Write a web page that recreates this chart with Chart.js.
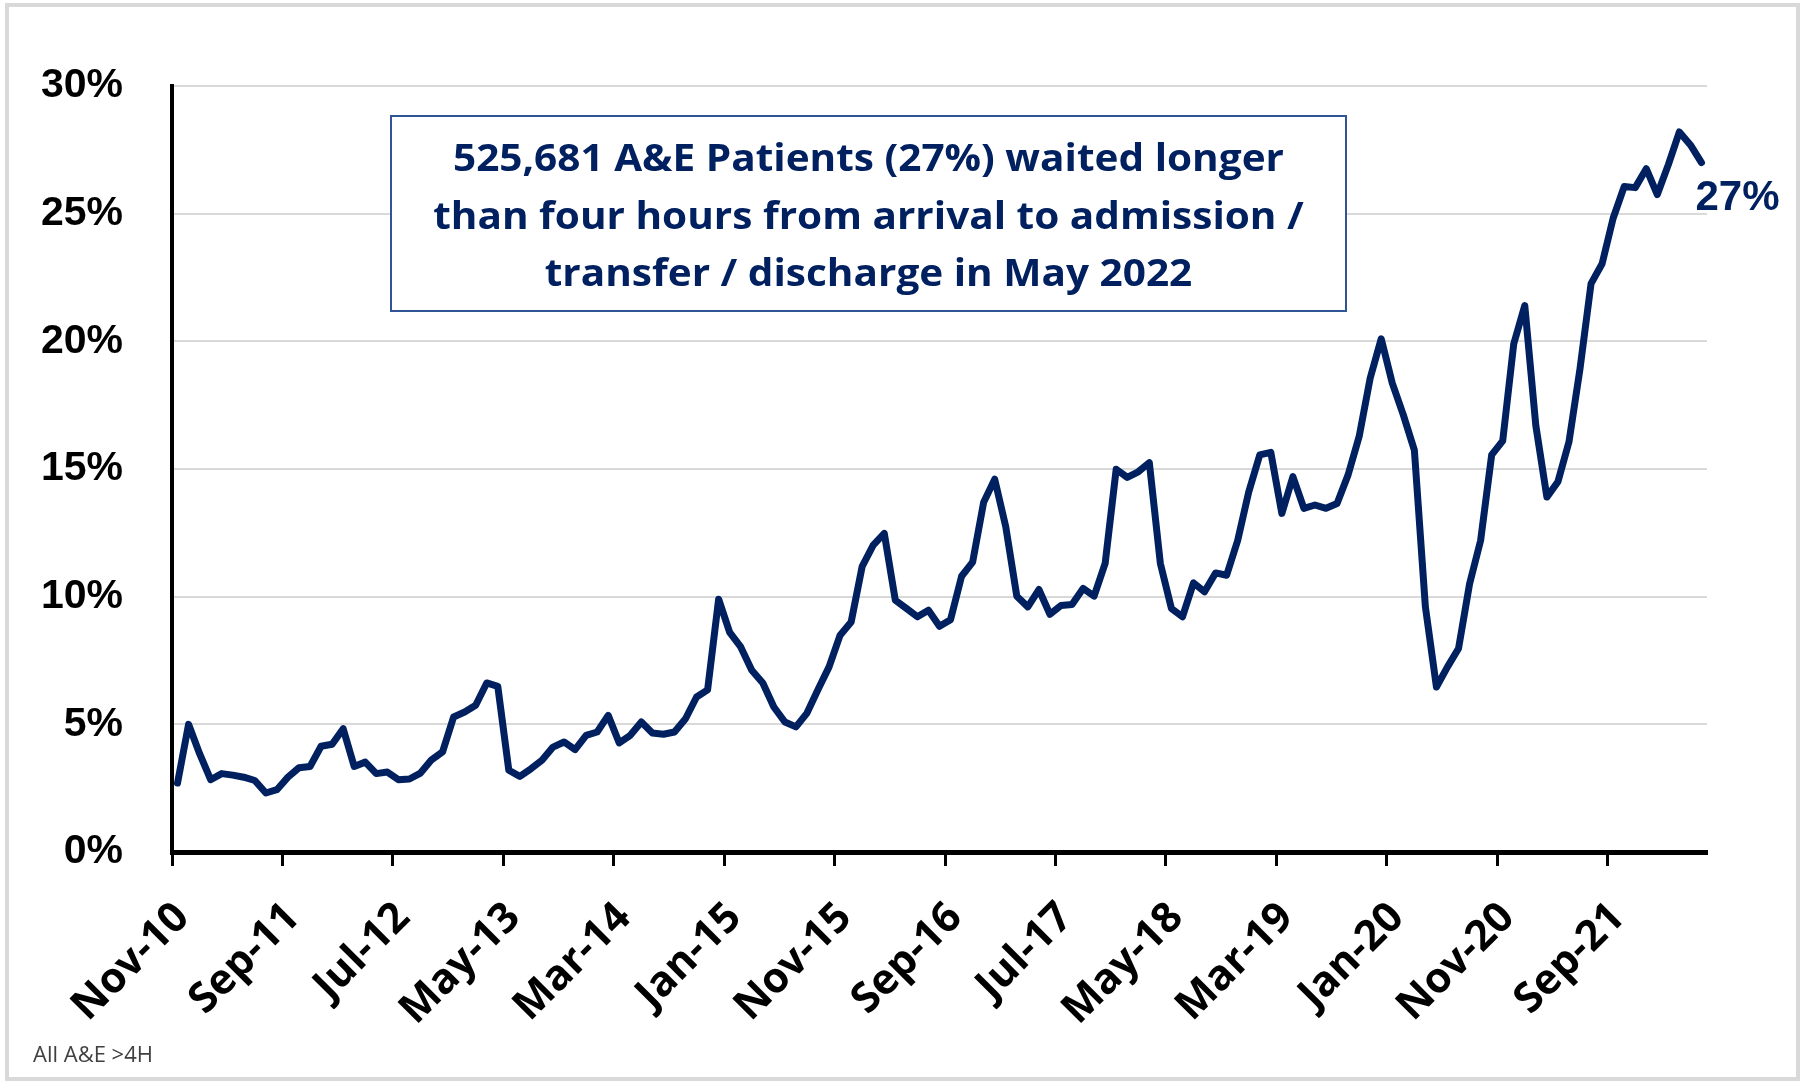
<!DOCTYPE html>
<html>
<head>
<meta charset="utf-8">
<title>A&amp;E patients waiting longer than four hours</title>
<script src="https://cdn.jsdelivr.net/npm/chart.js@4/dist/chart.umd.min.js"></script>
<style>
  html, body { margin: 0; padding: 0; background: #fff; }
  #wrap { width: 1808px; height: 1081px; }
</style>
</head>
<body>
<div id="wrap"><canvas id="chart" width="1808" height="1081"></canvas></div>
<script>
// share of A&E patients waiting more than 4 hours, monthly from Nov-10 to May-22 (%)
const breachShare = [
  2.7, 5.0, 3.85, 2.83, 3.07, 3.01, 2.93, 2.8, 2.31, 2.44,
  2.93, 3.3, 3.35, 4.14, 4.22, 4.83, 3.35, 3.52, 3.07, 3.13,
  2.83, 2.86, 3.09, 3.61, 3.92, 5.29, 5.48, 5.75, 6.62, 6.49,
  3.2, 2.96, 3.26, 3.59, 4.11, 4.31, 4.01, 4.57, 4.7, 5.35,
  4.27, 4.57, 5.09, 4.66, 4.61, 4.7, 5.22, 6.07, 6.35, 9.9,
  8.6, 8.03, 7.12, 6.62, 5.68, 5.09, 4.9, 5.44, 6.36, 7.25,
  8.49, 9.01, 11.19, 12.02, 12.48, 9.86, 9.54, 9.21, 9.47, 8.84,
  9.1, 10.8, 11.35, 13.7, 14.6, 12.74, 10.02, 9.6, 10.28, 9.31,
  9.65, 9.69, 10.32, 10.02, 11.3, 14.99, 14.67, 14.89, 15.25, 11.3,
  9.54, 9.21, 10.54, 10.19, 10.93, 10.84, 12.2, 14.1, 15.55, 15.65,
  13.26, 14.7, 13.46, 13.59, 13.46, 13.65, 14.77, 16.27, 18.56, 20.1,
  18.36, 17.12, 15.74, 9.6, 6.46, 7.25, 7.97, 10.5, 12.2, 15.55,
  16.1, 19.9, 21.4, 16.7, 13.9, 14.5, 16.06, 18.93, 22.26, 23.04,
  24.82, 26.06, 26.02, 26.76, 25.75, 26.92, 28.2, 27.69, 27.0
];

const tickLabels = ["Nov-10", "Sep-11", "Jul-12", "May-13", "Mar-14", "Jan-15", "Nov-15",
  "Sep-16", "Jul-17", "May-18", "Mar-19", "Jan-20", "Nov-20", "Sep-21"];
const tickEvery = 10;
const yTicks = [0, 5, 10, 15, 20, 25, 30];

const monthNames = ["Jan", "Feb", "Mar", "Apr", "May", "Jun", "Jul", "Aug", "Sep", "Oct", "Nov", "Dec"];
const categories = breachShare.map((_, i) => {
  const m = 10 + i;
  return monthNames[m % 12] + "-" + (10 + Math.floor(m / 12));
});

const noteLines = [
  "525,681 A&E Patients (27%) waited longer",
  "than four hours from arrival to admission /",
  "transfer / discharge in May 2022"
];
const endLabel = "27%";
const sourceNote = "All A&E >4H";

const navy = "#002060";

// frame, text box and the end label
const decorations = {
  id: "decorations",
  beforeDraw(chart) {
    const ctx = chart.ctx;
    ctx.save();
    ctx.fillStyle = "#fff";
    ctx.fillRect(0, 0, chart.width, chart.height);
    ctx.restore();
  },
  afterDraw(chart) {
    const ctx = chart.ctx;
    ctx.save();

    // outer frame
    ctx.strokeStyle = "#d9d9d9";
    ctx.lineWidth = 4;
    ctx.strokeRect(7, 5, 1791, 1074);

    // text box
    ctx.fillStyle = "#fff";
    ctx.fillRect(391, 116, 955, 195);
    ctx.strokeStyle = "#2f5597";
    ctx.lineWidth = 2;
    ctx.strokeRect(391, 116, 955, 195);

    ctx.fillStyle = navy;
    ctx.font = "bold 38px 'Open Sans'";
    ctx.textAlign = "center";
    ctx.textBaseline = "alphabetic";
    const sx = 831 / ctx.measureText(noteLines[0]).width;
    [171, 228.5, 286].forEach((base, i) => {
      ctx.save();
      ctx.translate(868.5, base);
      ctx.scale(sx, 1);
      ctx.fillText(noteLines[i], 0, 0);
      ctx.restore();
    });

    // label at the last point
    const pts = chart.getDatasetMeta(0).data;
    const last = pts[pts.length - 1];
    ctx.font = "bold 42px 'Liberation Sans'";
    ctx.textAlign = "left";
    ctx.textBaseline = "middle";
    ctx.fillText(endLabel, last.x - 6, last.y + 36);

    // source note
    ctx.fillStyle = "#404040";
    ctx.font = "22px 'Open Sans'";
    ctx.textBaseline = "alphabetic";
    ctx.fillText(sourceNote, 33, 1062);

    ctx.restore();
  }
};

new Chart(document.getElementById("chart"), {
  type: "line",
  data: {
    labels: categories,
    datasets: [{
      data: breachShare,
      borderColor: navy,
      borderWidth: 7,
      borderJoinStyle: "round",
      borderCapStyle: "round",
      pointRadius: 0,
      tension: 0,
      fill: false
    }]
  },
  options: {
    responsive: false,
    animation: false,
    layout: { padding: { top: 86, right: 101, bottom: 0, left: 0 } },
    plugins: {
      legend: { display: false },
      tooltip: { enabled: false }
    },
    scales: {
      x: {
        type: "category",
        offset: true,
        grid: {
          offset: true,
          drawOnChartArea: false,
          drawTicks: true,
          tickLength: 14,
          tickWidth: 3,
          tickColor: c => (c.index % tickEvery === 0 ? "#000" : "rgba(0,0,0,0)")
        },
        border: { display: true, color: "#000", width: 5 },
        ticks: {
          autoSkip: false,
          minRotation: 45,
          maxRotation: 45,
          padding: 27,
          labelOffset: 5,
          color: "#000",
          font: { family: "'Open Sans'", size: 42, weight: "bold" },
          callback: (v, i) => (i % tickEvery === 0 ? tickLabels[i / tickEvery] : "")
        },
        afterFit: s => { s.height = 229; }
      },
      y: {
        min: yTicks[0],
        max: yTicks[yTicks.length - 1],
        afterBuildTicks: s => { s.ticks = yTicks.map(v => ({ value: v })); },
        grid: { color: "#d9d9d9", lineWidth: 2, drawTicks: false },
        border: { display: true, color: "#000", width: 4 },
        ticks: {
          padding: 49,
          color: "#000",
          font: { family: "'Liberation Sans'", size: 41, weight: "bold" },
          callback: v => v + "%"
        },
        afterFit: s => { s.width = 172; }
      }
    }
  },
  plugins: [decorations]
});
</script>
</body>
</html>
